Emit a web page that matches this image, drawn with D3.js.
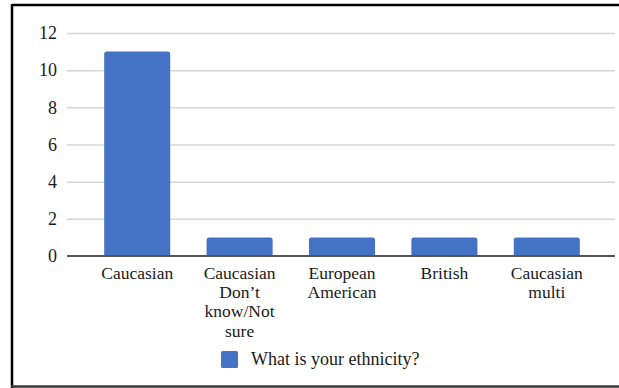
<!DOCTYPE html>
<html>
<head>
<meta charset="utf-8">
<script src="https://cdn.jsdelivr.net/npm/d3@7/dist/d3.min.js"></script>
<style>
  html, body { margin: 0; padding: 0; background: #fff; }
  svg { display: block; }
  text { font-family: "Liberation Serif", "Times New Roman", serif; fill: #1a1a1a; }
</style>
</head>
<body>
<svg id="chart" width="619" height="388"></svg>
<script>
// Responses per ethnicity
const categories = ["Caucasian", "Caucasian Don’t know/Not sure", "European American", "British", "Caucasian multi"];
const counts = [11, 1, 1, 1, 1];
const yTicks = [0, 2, 4, 6, 8, 10, 12];
const seriesName = "What is your ethnicity?";

const W = 619, H = 388;
const svg = d3.select("#chart");
const barColor = "#4472c4";
const fontSize = 18;
const catFontSize = 17.5;

// Frame
svg.append("line").attr("x1", 12).attr("x2", W).attr("y1", 5).attr("y2", 5)
  .attr("stroke", "#000").attr("stroke-width", 2.5);
svg.append("line").attr("x1", 12).attr("x2", 12).attr("y1", 4).attr("y2", H)
  .attr("stroke", "#000").attr("stroke-width", 2.5);
svg.append("line").attr("x1", 11).attr("x2", W).attr("y1", 386.5).attr("y2", 386.5)
  .attr("stroke", "#3a3a3a").attr("stroke-width", 2.5);

const gridLeft = 67, gridRight = 615;
const x = d3.scaleBand().domain(categories).range([86, 598])
  .paddingInner(0.355).paddingOuter(0.1775);
const y = d3.scaleLinear().domain([0, 12]).range([256, 33]);

// Gridlines and value labels
const yAxis = d3.axisLeft(y).tickValues(yTicks).tickSize(gridRight - gridLeft).tickPadding(0);
const gy = svg.append("g").attr("transform", `translate(${gridRight},0)`).call(yAxis);
gy.select(".domain").remove();
gy.selectAll(".tick line").attr("stroke", "#d6d6d6").attr("stroke-width", 1.5)
  .filter(d => d === 0).remove();
gy.selectAll(".tick text").attr("font-size", fontSize).attr("fill", "#1a1a1a")
  .attr("x", 57 - gridRight).attr("text-anchor", "end");

// Bars with rounded tops
const r = 2.5;
svg.append("g").selectAll("path").data(categories).join("path")
  .attr("fill", barColor)
  .attr("d", (c, i) => {
    const x0 = x(c), x1 = x(c) + x.bandwidth(), yt = y(counts[i]), yb = y(0);
    return `M${x0},${yb}V${yt + r}Q${x0},${yt} ${x0 + r},${yt}H${x1 - r}Q${x1},${yt} ${x1},${yt + r}V${yb}Z`;
  });

// Baseline
svg.append("line").attr("x1", gridLeft).attr("x2", gridRight)
  .attr("y1", y(0)).attr("y2", y(0)).attr("stroke", "#555").attr("stroke-width", 2);

// Category labels, word-wrapped
const xAxis = d3.axisBottom(x).tickSize(0).tickPadding(0);
const gx = svg.append("g").attr("transform", `translate(0,${y(0)})`).call(xAxis);
gx.select(".domain").remove();
gx.selectAll(".tick text").attr("font-size", catFontSize).attr("fill", "#1a1a1a")
  .each(function(d) {
    const t = d3.select(this);
    const words = d.split(" ");
    t.text(null);
    const maxW = 90, lh = 19.4, y0 = 22.5;
    let line = [], lineNo = 0;
    let ts = t.append("tspan").attr("x", 0).attr("y", y0);
    words.forEach(w => {
      line.push(w);
      ts.text(line.join(" "));
      if (ts.node().getComputedTextLength() > maxW && line.length > 1) {
        line.pop();
        ts.text(line.join(" "));
        line = [w];
        lineNo++;
        ts = t.append("tspan").attr("x", 0).attr("y", y0 + lineNo * lh).text(w);
      }
    });
    t.attr("dy", null);
  });

// Legend
const lg = svg.append("g").attr("transform", "translate(221,351)");
lg.append("rect").attr("width", 17).attr("height", 17).attr("rx", 1.5).attr("fill", barColor);
lg.append("text").attr("x", 30).attr("y", 13.5).attr("font-size", fontSize).text(seriesName);
</script>
</body>
</html>
